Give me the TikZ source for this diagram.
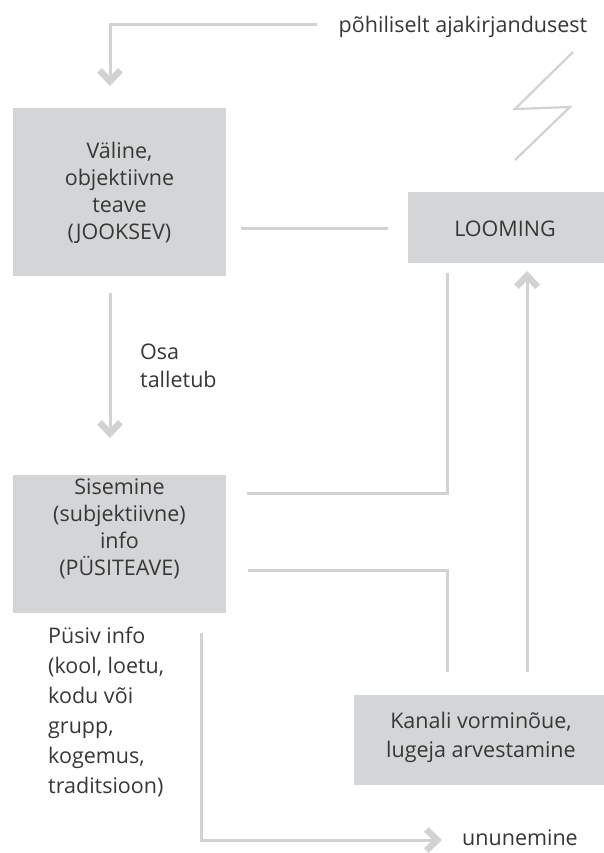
\documentclass[tikz,border=0pt]{standalone}
\usepackage{fontspec}
\setmainfont{Open Sans}
\usetikzlibrary{arrows.meta}
\definecolor{boxgray}{RGB}{212,213,215}
\definecolor{linegray}{RGB}{210,210,210}
\definecolor{txtgray}{RGB}{55,55,55}
\begin{document}
\begin{tikzpicture}[x=1pt,y=-1pt,
  box/.style={fill=boxgray, draw=none, inner sep=0pt},
  lbl/.style={text=txtgray, font=\fontsize{21.5}{27}\selectfont, inner sep=0pt, align=center},
  conn/.style={draw=linegray, line width=3pt},
  arr/.style={conn, -{Straight Barb[length=11pt,width=21pt,line width=6.5pt]}}]
\useasboundingbox (0,0) rectangle (604,853);
% boxes
\node[box, minimum width=213pt, minimum height=167pt] (b1) at (119.5,192) {};
\node[lbl] (b1t) at (119.5,193) {Väline,\\objektiivne\\teave\\(JOOKSEV)};
\node[box, minimum width=196pt, minimum height=71pt] (loom) at (506,227.5) {};
\node[lbl] (loomt) at (505,229) {LOOMING};
\node[box, minimum width=213pt, minimum height=138pt] (b2) at (119.5,544) {};
\node[lbl] (b2t) at (119.5,528.5) {Sisemine\\(subjektiivne)\\info\\(PÜSITEAVE)};
\node[box, minimum width=250pt, minimum height=90pt] (kan) at (479,740) {};
\node[lbl, font=\fontsize{21.5}{29}\selectfont] (kant) at (481,737.5) {Kanali vorminõue,\\lugeja arvestamine};
% free labels
\node[lbl] (src) at (463,27) {põhiliselt ajakirjandusest};
\node[lbl, align=left, anchor=west, font=\fontsize{21.5}{28}\selectfont] (osa) at (140,366) {Osa\\talletub};
\node[lbl, align=left, anchor=west, font=\fontsize{21.5}{30}\selectfont] (pys) at (48,712) {Püsiv info\\(kool, loetu,\\kodu või\\grupp,\\kogemus,\\traditsioon)};
\node[lbl] (unu) at (520,838) {ununemine};
% connector end points
\coordinate (c1) at (317,25);
\coordinate (c2) at (110,86);
\coordinate (c3) at (241,228);
\coordinate (c4) at (388,228);
\coordinate (c5) at (110,293);
\coordinate (c6) at (110,438);
\coordinate (c7) at (247,493);
\coordinate (c8) at (447,273);
\coordinate (c9) at (248,570);
\coordinate (c10) at (447,672);
\coordinate (c11) at (527,672);
\coordinate (c12) at (527,271);
\coordinate (c13) at (201,633);
\coordinate (c14) at (442,840);
% connectors
\draw[arr] (c1) -| (c2);
\draw[conn] (c3) -- (c4);
\draw[arr] (c5) -- (c6);
\draw[conn] (c7) -| (c8);
\draw[conn] (c9) -| (c10);
\draw[arr] (c11) -- (c12);
\draw[arr] (c13) |- (c14);
% lightning
\draw[conn, line width=2.2pt] (573,52) -- (515,109) -- (570,107) -- (515,160);
\end{tikzpicture}
\end{document}
